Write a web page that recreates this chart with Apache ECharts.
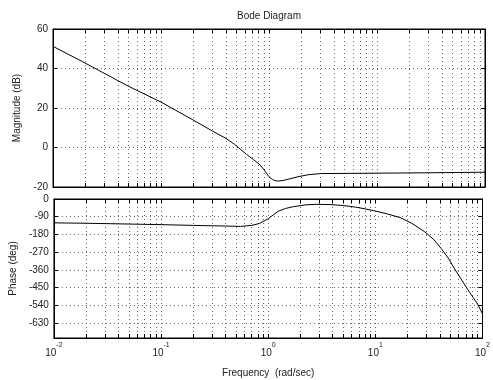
<!DOCTYPE html>
<html>
<head>
<meta charset="utf-8">
<script src="https://cdn.jsdelivr.net/npm/echarts@6/dist/echarts.min.js"></script>
<style>
  html, body { margin: 0; padding: 0; background: #fff; }
  #chart { width: 493px; height: 380px; }
</style>
</head>
<body>
<div id="chart"></div>
<script>
// magnitude curve
const magFreq = [0.01, 0.019, 0.05, 0.1, 0.2, 0.3, 0.4, 0.48, 0.62, 0.72, 0.83, 0.92, 1.0, 1.08, 1.14, 1.22, 1.35, 1.5, 1.86, 2.3, 3.0, 10, 30, 100];
const magDb = [51.2, 43.3, 31.0, 23.0, 13.8, 8.3, 4.6, 1.6, -3.5, -6.2, -8.9, -12.0, -14.8, -16.2, -16.8, -17.0, -16.7, -16.1, -14.8, -13.8, -13.2, -13.0, -12.8, -12.5];

// phase curve
const phaseFreq = [0.01, 0.02, 0.05, 0.1, 0.2, 0.4, 0.55, 0.7, 0.83, 1.0, 1.12, 1.24, 1.45, 1.68, 2.2, 2.8, 3.7, 5, 6.5, 8, 10, 13, 17, 22, 29, 35, 41, 48, 55, 63, 73, 82, 90, 100];
const phaseDeg = [-121, -123, -127, -130, -134, -137, -139, -134, -124, -100, -80, -62, -48, -40, -30, -27, -28, -33, -41, -50, -61, -76, -94, -124, -167, -205, -250, -300, -355, -405, -460, -500, -533, -582];

const decades = [0.01, 0.1, 1, 10, 100];
const magTicks = [-20, 0, 20, 40, 60];
const phaseTicks = [0, -90, -180, -270, -360, -450, -540, -630];

// minor grid: 2..9 inside every decade
const freqGrid = [];
decades.forEach(function (d, i) {
  freqGrid.push(d);
  if (i < decades.length - 1) {
    for (let k = 2; k <= 9; k++) freqGrid.push(+(d * k).toPrecision(3));
  }
});

const font = 'Liberation Sans, Arial, sans-serif';
const ink = '#222';
const dots = { show: true, lineStyle: { color: '#666', width: 1, type: [1, 3] } };
const line = { show: true, onZero: false, lineStyle: { color: '#000', width: 1 } };
const tick = { show: true, inside: true, length: 4, lineStyle: { color: '#000' } };

function xAxis(grid, pos, opts) {
  return Object.assign({
    type: 'log', logBase: 10, gridIndex: grid, position: pos, min: 0.01, max: 100,
    axisLine: line,
    axisTick: Object.assign({ customValues: freqGrid }, tick),
    axisLabel: { show: false },
    splitLine: { show: false }
  }, opts);
}
function yAxis(grid, pos, opts) {
  return Object.assign({
    type: 'value', gridIndex: grid, position: pos,
    axisLine: line, axisTick: tick,
    axisLabel: { show: false },
    splitLine: { show: false }
  }, opts);
}

const yLabel = { show: true, color: ink, fontFamily: font, fontSize: 10, margin: 5 };
const yName = { color: ink, fontFamily: font, fontSize: 10 };

const chart = echarts.init(document.getElementById('chart'));
chart.setOption({
  backgroundColor: '#fff',
  animation: false,
  graphic: [{
    type: 'text', x: 269, y: 16,
    style: { text: 'Bode Diagram', fill: ink, font: '10px ' + font, textAlign: 'center', textVerticalAlign: 'middle' }
  }],
  grid: [
    { left: 53, top: 29, width: 432, height: 158, show: true, borderColor: '#000', borderWidth: 1, backgroundColor: '#fff' },
    { left: 53, top: 199, width: 432, height: 139, show: true, borderColor: '#000', borderWidth: 1, backgroundColor: '#fff' }
  ],
  xAxis: [
    xAxis(0, 'bottom', { splitLine: dots }),
    xAxis(0, 'top', {}),
    xAxis(1, 'bottom', {
      splitLine: dots,
      name: 'Frequency  (rad/sec)', nameLocation: 'middle', nameGap: 30,
      nameTextStyle: { color: ink, fontFamily: font, fontSize: 10 },
      axisLabel: {
        show: true, customValues: decades, margin: 4,
        formatter: function (v) { return '{b|10}{s|' + Math.round(Math.log10(v)) + '}'; },
        rich: {
          b: { color: ink, fontFamily: font, fontSize: 10, lineHeight: 16, verticalAlign: 'bottom' },
          s: { color: ink, fontFamily: font, fontSize: 7, lineHeight: 16, verticalAlign: 'top' }
        }
      }
    }),
    xAxis(1, 'top', {})
  ],
  yAxis: [
    yAxis(0, 'left', {
      min: -20, max: 60, interval: 20, axisLabel: yLabel, splitLine: dots,
      name: 'Magnitude (dB)', nameLocation: 'middle', nameGap: 26, nameTextStyle: yName
    }),
    yAxis(0, 'right', { min: -20, max: 60, interval: 20 }),
    yAxis(1, 'left', {
      min: -705, max: 0,
      axisTick: Object.assign({ customValues: phaseTicks }, tick),
      axisLabel: Object.assign({ customValues: phaseTicks }, yLabel),
      splitLine: dots,
      name: 'Phase (deg)', nameLocation: 'middle', nameGap: 31, nameTextStyle: yName
    }),
    yAxis(1, 'right', {
      min: -705, max: 0,
      axisTick: Object.assign({ customValues: phaseTicks }, tick)
    })
  ],
  series: [
    {
      type: 'line', xAxisIndex: 0, yAxisIndex: 0, symbol: 'none', smooth: false,
      lineStyle: { color: '#000', width: 1 },
      data: magFreq.map(function (f, i) { return [f, magDb[i]]; })
    },
    {
      type: 'line', xAxisIndex: 2, yAxisIndex: 2, symbol: 'none', smooth: false,
      lineStyle: { color: '#000', width: 1 },
      data: phaseFreq.map(function (f, i) { return [f, phaseDeg[i]]; })
    }
  ]
});
</script>
</body>
</html>
